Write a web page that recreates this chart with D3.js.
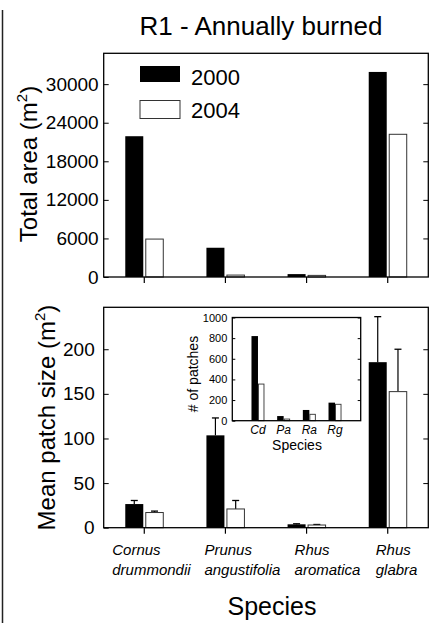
<!DOCTYPE html>
<html>
<head>
<meta charset="utf-8">
<script src="https://cdn.jsdelivr.net/npm/d3@7"></script>
<style>
body { margin: 0; background: #fff; }
text { font-family: "Liberation Sans", Arial, sans-serif; fill: #000; }
</style>
</head>
<body>
<svg id="chart" width="433" height="623"></svg>
<script>
// species and short codes
var speciesGenus = ["Cornus", "Prunus", "Rhus", "Rhus"];
var speciesEpithet = ["drummondii", "angustifolia", "aromatica", "glabra"];
var speciesShort = ["Cd", "Pa", "Ra", "Rg"];
var years = ["2000", "2004"];

// total area (m2)
var area2000 = [21900, 4550, 450, 31900];
var area2004 = [5900, 300, 250, 22200];

// mean patch size (m2) + upper error
var size2000 = [26.5, 103.5, 3.8, 185.5];
var size2000Err = [4, 19.5, 0.6, 51];
var size2004 = [17, 21, 3, 152.5];
var size2004Err = [1.6, 9.5, 0.6, 47.5];

// number of patches (inset)
var count2000 = [820, 45, 104, 175];
var count2004 = [355, 16, 62, 159];

var areaTicks = [0, 6000, 12000, 18000, 24000, 30000];
var sizeTicks = [0, 50, 100, 150, 200];
var countTicks = [0, 200, 400, 600, 800, 1000];

var svg = d3.select("#chart");

// left border line
svg.append("line")
    .attr("x1", 2.5).attr("x2", 2.5)
    .attr("y1", 10).attr("y2", 623)
    .style("stroke", "#222").style("stroke-width", 1.5);

svg.append("text")
    .attr("x", 261).attr("y", 35)
    .attr("text-anchor", "middle")
    .style("font-size", "26px")
    .text("R1 - Annually burned");

var left = 103.7, right = 428.3;
var x = d3.scaleBand().domain(speciesShort).range([left, right]).padding(0);
function cx(d, i) { return x(speciesShort[i]) + x.bandwidth() / 2; }

function frame(g, x0, y0, x1, y1) {
    g.append("rect")
        .attr("x", x0).attr("y", y0)
        .attr("width", x1 - x0).attr("height", y1 - y0)
        .style("fill", "none").style("stroke", "#000").style("stroke-width", 1.3);
}

function yAxes(g, y, ticks, tickLen, fontSize, pad, fmt) {
    var r = y.range();
    g.append("g")
        .attr("transform", "translate(" + g.attr("data-x0") + ",0)")
        .call(d3.axisLeft(y).tickValues(ticks).tickSizeInner(-tickLen).tickSizeOuter(0).tickPadding(pad).tickFormat(fmt))
        .call(function (a) {
            a.select(".domain").remove();
            a.selectAll("text").style("font-size", fontSize + "px").style("font-family", null);
            a.selectAll("line").style("stroke", "#000");
        });
    g.append("g")
        .attr("transform", "translate(" + g.attr("data-x1") + ",0)")
        .call(d3.axisRight(y).tickValues(ticks.filter(function (t) { return t > 0; })).tickSizeInner(-tickLen).tickSizeOuter(0).tickFormat(""))
        .call(function (a) {
            a.select(".domain").remove();
            a.selectAll("line").style("stroke", "#000");
        });
}

function xTicks(g, yBase) {
    g.selectAll(".xt").data(speciesShort).enter().append("line")
        .attr("x1", cx).attr("x2", cx)
        .attr("y1", yBase).attr("y2", yBase + 6)
        .style("stroke", "#000").style("stroke-width", 1.2);
}

function bars(g, y, v0, v1) {
    g.selectAll(".b0").data(v0).enter().append("rect")
        .attr("x", function (d, i) { return cx(d, i) - 19; })
        .attr("width", 18)
        .attr("y", function (d) { return y(d); })
        .attr("height", function (d) { return y(0) - y(d); })
        .style("fill", "#000");
    g.selectAll(".b1").data(v1).enter().append("rect")
        .attr("x", function (d, i) { return cx(d, i) + 1.5; })
        .attr("width", 17.5)
        .attr("y", function (d) { return y(d); })
        .attr("height", function (d) { return y(0) - y(d); })
        .style("fill", "#fff").style("stroke", "#333").style("stroke-width", 1);
}

// ---------- top panel: total area ----------
var topY0 = 53.3, topY1 = 277;
var yArea = d3.scaleLinear().domain([0, 34800]).range([topY1, topY0]);
var gTop = svg.append("g").attr("data-x0", left).attr("data-x1", right);
bars(gTop, yArea, area2000, area2004);
frame(gTop, left, topY0, right, topY1);
yAxes(gTop, yArea, areaTicks, 5, 19, 5, d3.format("d"));
xTicks(gTop, topY1);

svg.append("text")
    .attr("transform", "translate(37," + 164 + ") rotate(-90)")
    .attr("text-anchor", "middle")
    .style("font-size", "24px")
    .call(function (t) {
        t.append("tspan").text("Total area (m");
        t.append("tspan").attr("dy", -10).style("font-size", "15px").text("2");
        t.append("tspan").attr("dy", 10).text(")");
    });

// legend
var legend = svg.append("g");
years.forEach(function (yr, i) {
    legend.append("rect")
        .attr("x", 140).attr("y", 66 + i * 34.5)
        .attr("width", 40).attr("height", i ? 18 : 16)
        .style("fill", i ? "#fff" : "#000")
        .style("stroke", i ? "#333" : "none");
    legend.append("text")
        .attr("x", 191).attr("y", 85 + i * 33)
        .style("font-size", "22px")
        .text(yr);
});

// ---------- bottom panel: mean patch size ----------
var botY0 = 307.3, botY1 = 527.7;
var ySize = d3.scaleLinear().domain([0, 247]).range([botY1, botY0]);
var gBot = svg.append("g").attr("data-x0", left).attr("data-x1", right);

function errBars(g, vals, errs, dx) {
    g.selectAll(".e").data(vals).enter().append("g").each(function (d, i) {
        var xc = cx(d, i) + dx;
        var yt = ySize(d + errs[i]);
        d3.select(this).append("line")
            .attr("x1", xc).attr("x2", xc).attr("y1", ySize(d)).attr("y2", yt)
            .style("stroke", "#000").style("stroke-width", 1.2);
        d3.select(this).append("line")
            .attr("x1", xc - 3.5).attr("x2", xc + 3.5).attr("y1", yt).attr("y2", yt)
            .style("stroke", "#000").style("stroke-width", 1.3);
    });
}
errBars(gBot, size2000, size2000Err, -10);
errBars(gBot, size2004, size2004Err, 10.25);
bars(gBot, ySize, size2000, size2004);
frame(gBot, left, botY0, right, botY1);
yAxes(gBot, ySize, sizeTicks, 5, 19, 9, d3.format("d"));
xTicks(gBot, botY1);

svg.append("text")
    .attr("transform", "translate(55," + 417.5 + ") rotate(-90)")
    .attr("text-anchor", "middle")
    .style("font-size", "24px")
    .call(function (t) {
        t.append("tspan").text("Mean patch size (m");
        t.append("tspan").attr("dy", -10).style("font-size", "15px").text("2");
        t.append("tspan").attr("dy", 10).text(")");
    });

// species labels
var labelShift = [-32, -21, -12, -12];
var labs = svg.selectAll(".sp").data(speciesGenus).enter().append("text")
    .attr("x", function (d, i) { return cx(d, i) + labelShift[i]; })
    .attr("y", 555)
    .style("font-size", "15px").style("font-style", "italic");
labs.append("tspan").text(function (d) { return d; });
labs.append("tspan")
    .attr("x", function (d, i) { return cx(d, i) + labelShift[i]; })
    .attr("dy", 20)
    .text(function (d, i) { return speciesEpithet[i]; });

svg.append("text")
    .attr("x", 272).attr("y", 615)
    .attr("text-anchor", "middle")
    .style("font-size", "25px")
    .text("Species");

// ---------- inset: number of patches ----------
var inL = 232.3, inR = 360.7, inT = 317.5, inB = 420.7;
var xIn = d3.scaleLinear().domain([0, 5]).range([inL, inR]);
var yIn = d3.scaleLinear().domain([0, 1000]).range([inB, inT]);
var gIn = svg.append("g").attr("data-x0", inL).attr("data-x1", inR);
gIn.append("rect").attr("x", inL).attr("y", inT).attr("width", inR - inL).attr("height", inB - inT).style("fill", "#fff");
gIn.selectAll(".i0").data(count2000).enter().append("rect")
    .attr("x", function (d, i) { return xIn(i + 1) - 6.5; })
    .attr("width", 6.5)
    .attr("y", function (d) { return yIn(d); })
    .attr("height", function (d) { return yIn(0) - yIn(d); })
    .style("fill", "#000");
gIn.selectAll(".i1").data(count2004).enter().append("rect")
    .attr("x", function (d, i) { return xIn(i + 1) + 0.5; })
    .attr("width", 5.5)
    .attr("y", function (d) { return yIn(d); })
    .attr("height", function (d) { return yIn(0) - yIn(d); })
    .style("fill", "#fff").style("stroke", "#333").style("stroke-width", 0.9);
frame(gIn, inL, inT, inR, inB);
yAxes(gIn, yIn, countTicks, 3, 11, 5, d3.format("d"));

gIn.selectAll(".il").data(speciesShort).enter().append("text")
    .attr("x", function (d, i) { return xIn(i + 1); })
    .attr("y", 434)
    .attr("text-anchor", "middle")
    .style("font-size", "12px").style("font-style", "italic")
    .text(function (d) { return d; });

gIn.append("text")
    .attr("x", 297).attr("y", 450)
    .attr("text-anchor", "middle")
    .style("font-size", "14px")
    .text("Species");

gIn.append("text")
    .attr("transform", "translate(198,374) rotate(-90)")
    .attr("text-anchor", "middle")
    .style("font-size", "14px")
    .text("# of patches");
</script>
</body>
</html>
